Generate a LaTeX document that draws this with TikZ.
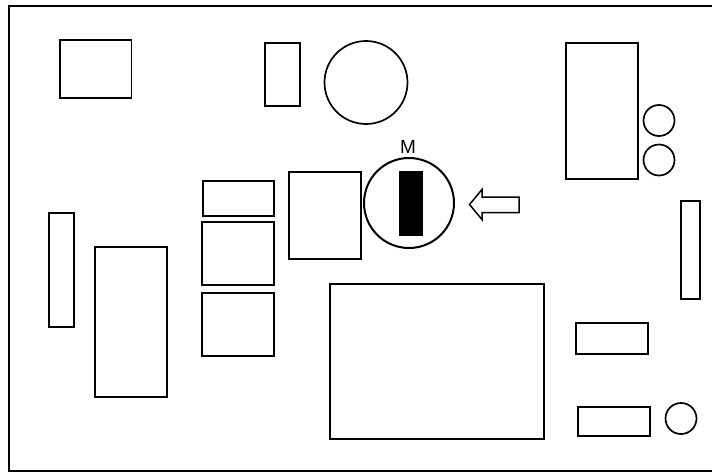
\documentclass[tikz,border=0pt]{standalone}
\usepackage{fontspec}
\setmainfont{Liberation Sans}
\tikzset{part/.style={draw=black,line width=1.5pt,fill=white,outer sep=0pt,inner sep=0pt},
  round part/.style={part,circle,line width=1.7pt,anchor=center}}
\newcommand{\bx}[5]{\node[part,minimum width=#4*1pt,minimum height=#5*1pt,anchor=north west] (#1) at (#2pt,-#3pt) {};}
\newcommand{\cir}[4]{\node[round part,minimum size=#4*2pt] (#1) at (#2pt,-#3pt) {};}
\begin{document}
\begin{tikzpicture}[x=1pt,y=1pt]
\useasboundingbox (0,0) rectangle (712pt,-472pt);
\begin{scope}
\clip (0,0) rectangle (712pt,-472pt);
\node[part,line width=2pt,minimum width=720pt,minimum height=465pt,anchor=north west] (frame) at (9pt,-5.5pt) {};
\end{scope}
\bx{a}{60}{40}{71.5}{58}
\bx{b}{265}{43}{35}{63}
\cir{c}{366}{82.5}{41.5}
\bx{d}{566}{43}{72}{136}
\cir{e}{659}{120.5}{15.5}
\cir{f}{659}{160}{15.5}
\bx{g}{203}{181}{71}{35}
\bx{h}{202}{222}{72}{63}
\bx{i}{202}{293}{72}{63}
\bx{j}{289}{172}{72}{87}
\node[part,circle,line width=2pt,minimum size=90pt,anchor=center] (k) at (409pt,-203pt) {};
\node[draw=none,fill=black,inner sep=0pt,outer sep=0pt,minimum width=23.5pt,minimum height=65pt,anchor=north west] (m) at (399pt,-171pt) {};
\node[font=\fontsize{19}{21}\selectfont,inner sep=0pt] (lab) at (408pt,-146.5pt) {M};
\bx{l}{49}{213}{25}{114}
\bx{n}{95}{247}{72}{150}
\bx{o}{330}{284}{214}{155}
\bx{p}{681}{201}{19}{98}
\bx{q}{576}{323}{72}{31}
\bx{r}{578}{407}{72}{29}
\cir{s}{681}{418.5}{15.5}
\draw[line width=1.5pt,fill=white] (519pt,-197pt) -- (482pt,-197pt) -- (482pt,-189.5pt) -- (469.5pt,-204.5pt) -- (482pt,-219.5pt) -- (482pt,-212.5pt) -- (519pt,-212.5pt) -- cycle;
\end{tikzpicture}
\end{document}
